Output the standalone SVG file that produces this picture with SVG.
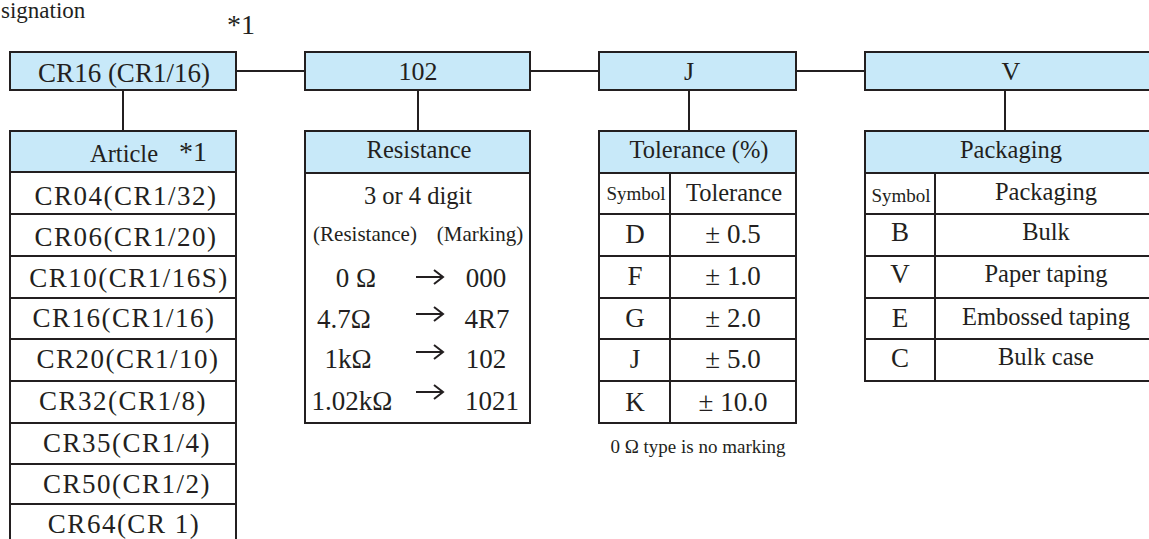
<svg xmlns="http://www.w3.org/2000/svg" width="1149" height="539" viewBox="0 0 1149 539" font-family="'Liberation Serif', 'Times New Roman', 'DejaVu Serif', serif">
<defs>
<path id="arw" d="M-14,0 H13 M4,-7 L13,0 L4,7" fill="none" stroke="#231f20" stroke-width="2"/>
</defs>
<style>
text{font-family:'Liberation Serif','Times New Roman','DejaVu Serif',serif;fill:#231f20;}
.b{fill:#c8e9f9;stroke:#231f20;stroke-width:2;}
.w{fill:#ffffff;stroke:#231f20;stroke-width:2;}
.l{stroke:#231f20;stroke-width:2;fill:none;}
.t27{font-size:27px;text-anchor:middle;}
.t26{font-size:26px;text-anchor:middle;}
.t24{font-size:24.5px;text-anchor:middle;}
.t21{font-size:21px;text-anchor:middle;}
.t19{font-size:19px;text-anchor:middle;}
.sp{letter-spacing:1.5px;}
</style>
<rect width="1149" height="539" fill="#ffffff"/>
<text x="1" y="18" style="font-size:23px">signation</text>
<text x="227" y="34" style="font-size:28px">*1</text>

<g id="connectors">
<line class="l" x1="236" y1="71" x2="305" y2="71"/>
<line class="l" x1="530" y1="71" x2="599" y2="71"/>
<line class="l" x1="796" y1="71" x2="865" y2="71"/>
<line class="l" x1="123" y1="90" x2="123" y2="131"/>
<line class="l" x1="418" y1="90" x2="418" y2="131"/>
<line class="l" x1="689" y1="90" x2="689" y2="131"/>
<line class="l" x1="1005" y1="90" x2="1005" y2="131"/>
</g>

<g id="n-cr16">
<rect class="b" x="10" y="52" width="226" height="38"/>
<text class="t27" x="124" y="82">CR16 (CR1/16)</text>
</g>
<g id="n-102">
<rect class="b" x="305" y="52" width="225" height="38"/>
<text class="t26" x="418" y="80">102</text>
</g>
<g id="n-j">
<rect class="b" x="599" y="52" width="197" height="38"/>
<text class="t26" x="689" y="80">J</text>
</g>
<g id="n-v">
<rect class="b" x="865" y="52" width="292" height="38"/>
<text class="t26" x="1011" y="80">V</text>
</g>

<g id="t-article">
<rect class="b" x="10" y="131" width="226" height="41"/>
<text x="90" y="162" style="font-size:24.5px">Article</text>
<text x="179" y="161" style="font-size:28px">*1</text>
<rect class="w" x="10" y="172" width="226" height="380"/>
<line class="l" x1="10" y1="214" x2="236" y2="214"/>
<line class="l" x1="10" y1="256" x2="236" y2="256"/>
<line class="l" x1="10" y1="298" x2="236" y2="298"/>
<line class="l" x1="10" y1="339" x2="236" y2="339"/>
<line class="l" x1="10" y1="381" x2="236" y2="381"/>
<line class="l" x1="10" y1="423" x2="236" y2="423"/>
<line class="l" x1="10" y1="464" x2="236" y2="464"/>
<line class="l" x1="10" y1="504" x2="236" y2="504"/>
<text class="t27 sp" x="126" y="205">CR04(CR1/32)</text>
<text class="t27 sp" x="126" y="246">CR06(CR1/20)</text>
<text class="t27 sp" x="129" y="287">CR10(CR1/16S)</text>
<text class="t27 sp" x="124" y="327">CR16(CR1/16)</text>
<text class="t27 sp" x="128" y="368">CR20(CR1/10)</text>
<text class="t27 sp" x="123" y="410">CR32(CR1/8)</text>
<text class="t27 sp" x="127" y="452">CR35(CR1/4)</text>
<text class="t27 sp" x="127" y="493">CR50(CR1/2)</text>
<text class="t27 sp" x="124" y="533">CR64(CR 1)</text>
</g>

<g id="t-resistance">
<rect class="b" x="305" y="131" width="225" height="42"/>
<text class="t24" x="419" y="158">Resistance</text>
<rect class="w" x="305" y="173" width="225" height="250"/>
<text class="t24" x="418" y="204">3 or 4 digit</text>
<text class="t21" x="365" y="241">(Resistance)</text>
<text class="t21" x="480" y="241">(Marking)</text>
<text class="t27" x="356" y="287">0 Ω</text>
<use href="#arw" x="430" y="277"/>
<text class="t27" x="486" y="287">000</text>
<text class="t27" x="344" y="328">4.7Ω</text>
<use href="#arw" x="430" y="314"/>
<text class="t27" x="487" y="328">4R7</text>
<text class="t27" x="348" y="368">1kΩ</text>
<use href="#arw" x="430" y="352"/>
<text class="t27" x="486" y="368">102</text>
<text class="t27" x="352" y="410">1.02kΩ</text>
<use href="#arw" x="430" y="392"/>
<text class="t27" x="492" y="410">1021</text>
</g>

<g id="t-tolerance">
<rect class="b" x="599" y="131" width="197" height="42"/>
<text class="t24" x="699" y="158">Tolerance (%)</text>
<rect class="w" x="599" y="173" width="197" height="250"/>
<line class="l" x1="670" y1="173" x2="670" y2="423"/>
<line class="l" x1="599" y1="214" x2="796" y2="214"/>
<line class="l" x1="599" y1="256" x2="796" y2="256"/>
<line class="l" x1="599" y1="298" x2="796" y2="298"/>
<line class="l" x1="599" y1="339" x2="796" y2="339"/>
<line class="l" x1="599" y1="381" x2="796" y2="381"/>
<text class="t19" x="636" y="200">Symbol</text>
<text class="t24" x="734" y="201">Tolerance</text>
<text class="t27" x="635" y="243">D</text>
<text class="t27" x="733" y="243">± 0.5</text>
<text class="t27" x="635" y="285">F</text>
<text class="t27" x="733" y="285">± 1.0</text>
<text class="t27" x="635" y="327">G</text>
<text class="t27" x="733" y="327">± 2.0</text>
<text class="t27" x="635" y="368">J</text>
<text class="t27" x="733" y="368">± 5.0</text>
<text class="t27" x="635" y="411">K</text>
<text class="t27" x="733" y="411">± 10.0</text>
</g>
<text class="t19" x="698" y="453">0 Ω type is no marking</text>

<g id="t-packaging">
<rect class="b" x="865" y="131" width="292" height="42"/>
<text class="t24" x="1011" y="158">Packaging</text>
<rect class="w" x="865" y="173" width="292" height="208"/>
<line class="l" x1="935" y1="173" x2="935" y2="381"/>
<line class="l" x1="865" y1="214" x2="1157" y2="214"/>
<line class="l" x1="865" y1="256" x2="1157" y2="256"/>
<line class="l" x1="865" y1="298" x2="1157" y2="298"/>
<line class="l" x1="865" y1="339" x2="1157" y2="339"/>
<text class="t19" x="901" y="202">Symbol</text>
<text class="t24" x="1046" y="200">Packaging</text>
<text class="t27" x="900" y="241">B</text>
<text class="t24" x="1046" y="240">Bulk</text>
<text class="t27" x="900" y="283">V</text>
<text class="t24" x="1046" y="282">Paper taping</text>
<text class="t27" x="900" y="327">E</text>
<text class="t24" x="1046" y="325">Embossed taping</text>
<text class="t27" x="900" y="367">C</text>
<text class="t24" x="1046" y="365">Bulk case</text>
</g>
</svg>
